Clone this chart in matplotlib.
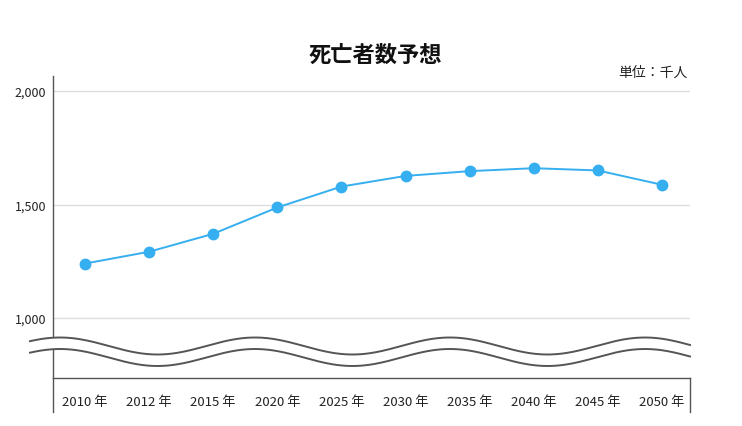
import numpy as np
import matplotlib
matplotlib.use("Agg")
import matplotlib.pyplot as plt
from matplotlib.lines import Line2D
from matplotlib.patches import Polygon

plt.rcParams['font.family'] = ['Noto Sans CJK JP', 'DejaVu Sans']

years = ["2010 年", "2012 年", "2015 年", "2020 年", "2025 年",
         "2030 年", "2035 年", "2040 年", "2045 年", "2050 年"]
deaths = [1240, 1292, 1371, 1487, 1579, 1626, 1647, 1660, 1650, 1587]
yticks = [1000, 1500, 2000]
ytick_labels = ["1,000", "1,500", "2,000"]

W, H = 742, 427
fig = plt.figure(figsize=(W / 100, H / 100), dpi=100)

def fx(px):
    return px / W

def fy(py):
    return 1 - py / H

left_px, right_px, top_px, bot_px = 53, 690, 77, 379
ax = fig.add_axes([fx(left_px), fy(bot_px), fx(right_px) - fx(left_px), fy(top_px) - fy(bot_px)])

x = np.arange(len(years))
ax.plot(x, deaths, color="#35aff0", lw=1.4, marker="o", markersize=7.5,
        markerfacecolor="#35aff0", markeredgecolor="#35aff0", zorder=3)

ax.set_xlim(-0.499, 9.437)
ax.set_ylim(736, 2066)
ax.set_yticks(yticks)
ax.set_yticklabels(ytick_labels, fontsize=9, color="#222222")
ax.set_xticks(x)
ax.set_xticklabels(years, fontsize=9.5, color="#222222")
ax.tick_params(axis="both", length=0)
ax.tick_params(axis="x", pad=12)
ax.tick_params(axis="y", pad=5)
ax.grid(axis="y", color="#dddddd", lw=1)
ax.set_axisbelow(True)
for s in ["top", "right"]:
    ax.spines[s].set_visible(False)
for s in ["left", "bottom"]:
    ax.spines[s].set_color("#555555")
    ax.spines[s].set_linewidth(1)

# extension of vertical lines below the x axis
fig.add_artist(Line2D([fx(left_px), fx(left_px)], [fy(bot_px), fy(413)],
                      transform=fig.transFigure, color="#555555", lw=1))
fig.add_artist(Line2D([fx(right_px), fx(right_px)], [fy(bot_px), fy(413)],
                      transform=fig.transFigure, color="#555555", lw=1))

# wavy axis break
wx = np.linspace(30, 690, 400)
up = 347 - 8.5 * np.cos(2 * np.pi * (wx - 60) / 195)
lo = up + 11.5
poly = np.vstack([np.column_stack([fx(wx), fy(up)]),
                  np.column_stack([fx(wx[::-1]), fy(lo[::-1])])])
fig.add_artist(Polygon(poly, closed=True, transform=fig.transFigure,
                       facecolor="white", edgecolor="none", zorder=5))
fig.add_artist(Line2D(fx(wx), fy(up), transform=fig.transFigure,
                      color="#555555", lw=1.4, zorder=6))
fig.add_artist(Line2D(fx(wx), fy(lo), transform=fig.transFigure,
                      color="#555555", lw=1.4, zorder=6))

fig.text(fx(375), fy(55), "死亡者数予想", ha="center", va="center",
         fontsize=16, fontweight="bold", color="#111111")
fig.text(fx(688), fy(73), "単位：千人", ha="right", va="center",
         fontsize=10, color="#222222")

fig.savefig("out.png", dpi=100, facecolor="white")
